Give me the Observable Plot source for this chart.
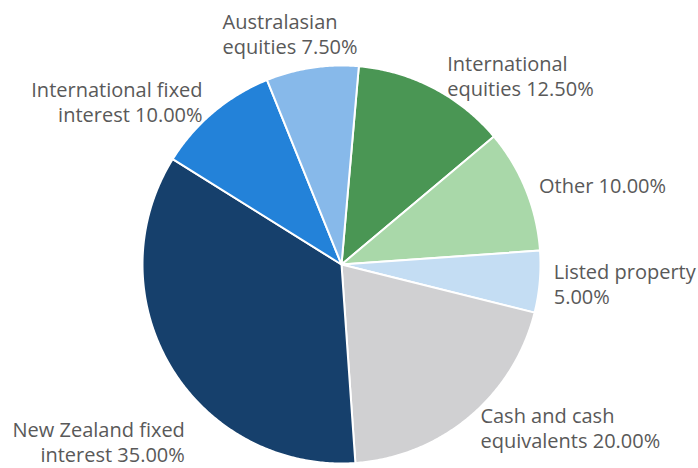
<!DOCTYPE html>
<html><head><meta charset="utf-8">
<script src="https://cdn.jsdelivr.net/npm/d3@7"></script>
<script src="https://cdn.jsdelivr.net/npm/@observablehq/plot@0.6"></script>
<style>html,body{margin:0;padding:0;background:#fff;}</style>
</head><body><div id="chart"></div>
<script>
// ---- data ----
const categories = ["International equities", "Other", "Listed property", "Cash and cash equivalents", "New Zealand fixed interest", "International fixed interest", "Australasian equities"];
const values = [12.5, 10, 5, 20, 35, 10, 7.5];
const colors = ["#4a9654", "#a9d8a9", "#c4ddf3", "#d0d0d2", "#16406c", "#2382d9", "#87b9ea"];

// ---- layout ----
const W = 698, H = 468, CX = 341, CY = 264, R = 199;
const START = 5 * Math.PI / 180;
const FONT = '"Open Sans", sans-serif', FS = 20, LH = 25, WRAP = 185, GAP = 14;
const TEXT_COLOR = "#595959";

const ctx = document.createElement("canvas").getContext("2d");
ctx.font = `${FS}px ${FONT}`;
const tw = s => ctx.measureText(s).width;
function wrap(str) {
  const words = str.split(" "); const lines = []; let cur = "";
  for (const w of words) {
    const t = cur ? cur + " " + w : w;
    if (cur && tw(t) > WRAP) { lines.push(cur); cur = w; } else cur = t;
  }
  lines.push(cur); return lines;
}

const arcs = d3.pie().sort(null).startAngle(START).endAngle(START + 2 * Math.PI)(values);

// slice polygons in unit-radius data space (y up)
const slicePts = [];
arcs.forEach((a, i) => {
  const name = categories[i];
  slicePts.push({name, x: 0, y: 0});
  const n = Math.max(2, Math.ceil((a.endAngle - a.startAngle) / (0.5 * Math.PI / 180)));
  for (let k = 0; k <= n; k++) {
    const t = a.startAngle + (a.endAngle - a.startAngle) * k / n;
    slicePts.push({name, x: Math.sin(t), y: Math.cos(t)});
  }
  slicePts.push({name, x: 0, y: 0});
});

// label placement (pixel space, then converted to data units)
const labels = arcs.map((a, i) => {
  const text = `${categories[i]} ${values[i].toFixed(2)}%`;
  const lines = wrap(text);
  const w = d3.max(lines, tw), h = lines.length * LH;
  const th = (a.startAngle + a.endAngle) / 2;
  const s = Math.sin(th), c = Math.cos(th);
  const px = CX + (R + GAP) * s, py = CY - (R + GAP) * c;
  const hx = Math.max(-1, Math.min(1, s * 2));
  let bx = px + hx * w / 2; // box center x
  let by = Math.abs(c) > 0.9 ? py - Math.sign(c) * (h / 2 - 5) : py;
  const dist = (pad) => {
    const nx = Math.max(bx - w / 2, Math.min(CX, bx + w / 2));
    const ny = Math.max(by - h / 2 + pad, Math.min(CY, by + h / 2 - pad));
    return Math.hypot(nx - CX, ny - CY);
  };
  const m = 12;
  let clamped = false;
  if (bx - w / 2 < m) { bx = m + w / 2; clamped = true; }
  if (bx + w / 2 > W - 2) { bx = W - 2 - w / 2; clamped = true; }
  let guard = 0;
  if (clamped) {
    const dir = by >= CY ? 1 : -1;
    while (dist(5) < R + 24 && guard++ < 400) by += dir;
    by = Math.max(h / 2, Math.min(H - h / 2 - 2, by));
  } else if (Math.abs(s) > 0.35) {
    const dir = Math.sign(s);
    while (dist(5) < R && guard++ < 400) bx += dir;
  } else {
    const dir = c > 0 ? -1 : 1;
    while (dist(5) < R && guard++ < 400) by += dir;
  }
  const anchor = s < -0.35 ? "end" : "start";
  const ax = anchor === "start" ? bx - w / 2 : bx + w / 2;
  return {text: lines.join("\n"), anchor, x: (ax - CX) / R, y: (CY - by) / R};
});

const textOpts = anchor => ({
  x: "x", y: "y", text: "text", textAnchor: anchor, lineAnchor: "middle",
  lineHeight: LH / FS, fontSize: FS, fill: TEXT_COLOR, fontFamily: FONT
});

const chart = Plot.plot({
  width: W, height: H, margin: 0,
  style: {background: "#fff", fontFamily: FONT},
  x: {domain: [-CX / R, (W - CX) / R], axis: null},
  y: {domain: [-(H - CY) / R, CY / R], axis: null},
  color: {domain: categories, range: colors},
  marks: [
    Plot.line(slicePts, {x: "x", y: "y", z: "name", fill: "name", stroke: "white", strokeWidth: 2, strokeLinejoin: "round", curve: "linear"}),
    Plot.text(labels.filter(d => d.anchor === "start"), textOpts("start")),
    Plot.text(labels.filter(d => d.anchor === "end"), textOpts("end"))
  ]
});
document.getElementById("chart").appendChild(chart);
</script>
</body></html>
